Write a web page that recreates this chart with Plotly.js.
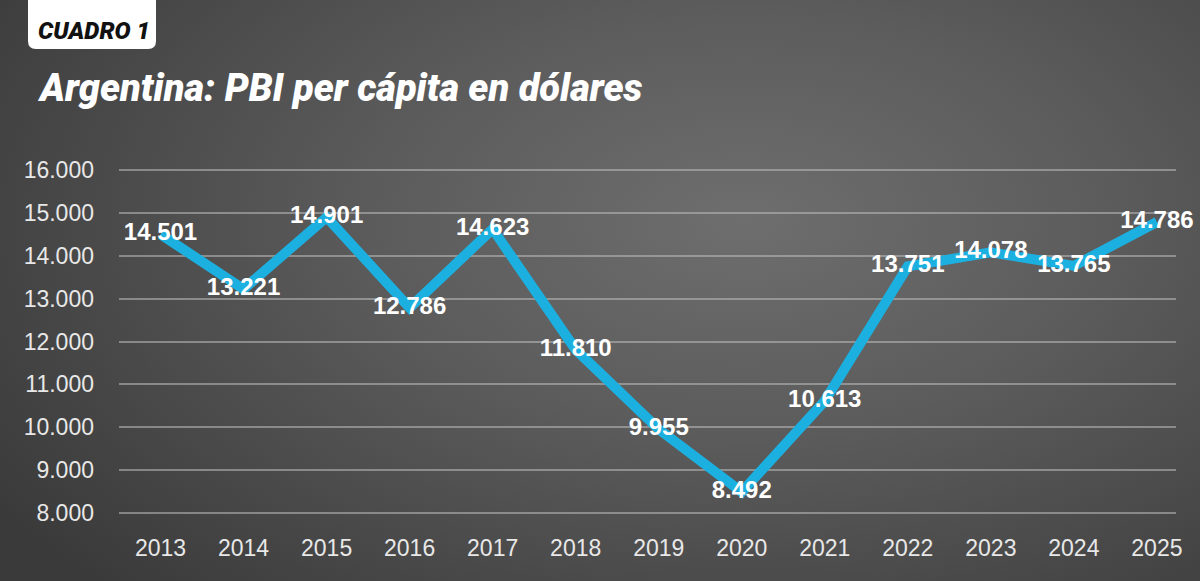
<!DOCTYPE html>
<html>
<head>
<meta charset="utf-8">
<script src="https://cdn.plot.ly/plotly-3.0.1.min.js"></script>
<style>
  html, body { margin: 0; padding: 0; }
  body {
    width: 1200px; height: 581px; overflow: hidden;
    background: radial-gradient(ellipse 75% 90% at 62% 38%, #6e6e6e 0%, #5c5c5c 40%, #454545 80%, #3a3a3a 100%);
  }
  #chart { width: 1200px; height: 581px; }
</style>
</head>
<body>
<div id="chart"></div>
<script>
const years = ['2013','2014','2015','2016','2017','2018','2019','2020','2021','2022','2023','2024','2025'];
const gdpPerCapita = [14501, 13221, 14901, 12786, 14623, 11810, 9955, 8492, 10613, 13751, 14078, 13765, 14786];
const valueLabels = ['14.501','13.221','14.901','12.786','14.623','11.810','9.955','8.492','10.613','13.751','14.078','13.765','14.786'];
const yTickVals = [8000, 9000, 10000, 11000, 12000, 13000, 14000, 15000, 16000];
const yTickText = ['8.000','9.000','10.000','11.000','12.000','13.000','14.000','15.000','16.000'];

const xNum = years.map(Number);

const line = {
  x: xNum, y: gdpPerCapita, type: 'scatter', mode: 'lines',
  line: { color: '#1bb0e0', width: 10 },
  hoverinfo: 'skip', showlegend: false, cliponaxis: false
};
const labels = {
  x: xNum, y: gdpPerCapita, type: 'scatter', mode: 'text',
  text: valueLabels, textposition: 'middle center', cliponaxis: false,
  textfont: { family: 'Liberation Sans, Arial, sans-serif', size: 24, color: '#ffffff', weight: 'bold' },
  hoverinfo: 'skip', showlegend: false
};

// plot area: x 119..1176, y 150..530
const L = 119, R = 1176, T = 150, B = 530;
const px = v => (v - L) / (R - L);
const py = v => (B - v) / (B - T);

const bx0 = px(28), bx1 = px(156), by0 = py(-5), by1 = py(49);
const rx = 8 / (R - L), ry = 8 / (B - T);
const boxPath = `M ${bx0} ${by0} L ${bx1} ${by0} L ${bx1} ${by1 + ry} Q ${bx1} ${by1} ${bx1 - rx} ${by1} L ${bx0 + rx} ${by1} Q ${bx0} ${by1} ${bx0} ${by1 + ry} Z`;

const layout = {
  width: 1200, height: 581,
  margin: { l: L, r: 1200 - R, t: T, b: 581 - B },
  paper_bgcolor: 'rgba(0,0,0,0)', plot_bgcolor: 'rgba(0,0,0,0)',
  xaxis: {
    range: [2012.5, 2025.23], tickvals: xNum, ticktext: years,
    showgrid: false, zeroline: false, showline: false, ticks: '',
    tickfont: { family: 'Liberation Sans, Arial, sans-serif', size: 23, color: '#e8e8e8' },
    ticklabelstandoff: 2, fixedrange: true
  },
  yaxis: {
    range: [7604, 16466], tickvals: yTickVals, ticktext: yTickText,
    showgrid: true, gridcolor: 'rgba(190,190,190,0.55)', gridwidth: 2,
    zeroline: false, showline: false, ticks: '',
    tickfont: { family: 'Liberation Sans, Arial, sans-serif', size: 23, color: '#e8e8e8' },
    ticklabelstandoff: 24, fixedrange: true
  },
  shapes: [{
    type: 'path', xref: 'paper', yref: 'paper', path: boxPath,
    fillcolor: '#ffffff', line: { width: 0 }, layer: 'above'
  }],
  annotations: [
    {
      xref: 'paper', yref: 'paper', x: px(94), y: py(31), xanchor: 'center', yanchor: 'middle',
      text: 'CUADRO 1', showarrow: false,
      font: { family: 'Roboto, Liberation Sans, sans-serif', size: 24, color: '#111111', weight: 900, style: 'italic' }
    },
    {
      xref: 'paper', yref: 'paper', x: px(35), y: py(88), xanchor: 'left', yanchor: 'middle',
      text: 'Argentina: PBI per cápita en dólares', showarrow: false,
      font: { family: 'Roboto, Liberation Sans, sans-serif', size: 38, color: '#ffffff', weight: 900, style: 'italic' }
    }
  ]
};

Plotly.newPlot('chart', [line, labels], layout, { displayModeBar: false, staticPlot: true });
</script>
</body>
</html>
